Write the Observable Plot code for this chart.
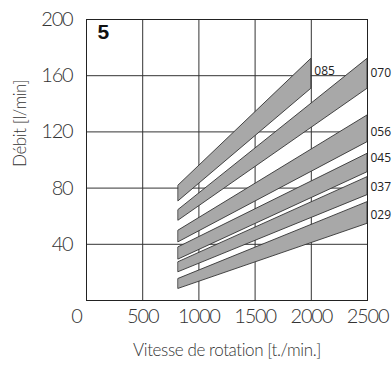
<!DOCTYPE html>
<html><head><meta charset="utf-8">
<script src="https://cdn.jsdelivr.net/npm/d3@7"></script>
<script src="https://cdn.jsdelivr.net/npm/@observablehq/plot@0.6"></script>
<style>body{margin:0;background:#fff}</style></head>
<body><div id="c"></div>
<script>
const series = ["085","070","056","045","037","029"];
const speedMin = [820,820,820,820,820,820];
const speedMax = [2000,2500,2500,2500,2500,2500];
const upperAtMin = [81.9,64.5,49.8,37.9,27.3,15.4];
const lowerAtMin = [70.7,56.9,41.5,29.2,20.2,8.3];
const upperAtMax = [172,172,131.7,104.4,87.8,70];
const lowerAtMax = [150.7,150.7,112.7,91.3,75,54.6];
const labelFlow = [163,162,120,101,81,60.5];
const xTicks = [0,500,1000,1500,2000,2500];
const yTicks = [40,80,120,160,200];
const xGrid = [500,1000,1500,2000];
const yGrid = [40,80,120,160];

const bands = [];
series.forEach((s,i)=>{
  bands.push({s, x: speedMin[i], lo: lowerAtMin[i], hi: upperAtMin[i]});
  bands.push({s, x: speedMax[i], lo: lowerAtMax[i], hi: upperAtMax[i]});
});
const labels = series.map((s,i)=>({s, x: speedMax[i], y: labelFlow[i]}));

const thin = "Lato, Roboto, 'DejaVu Sans', sans-serif";
const tickOpts = {tickSize: 0, fontSize: 20, fontWeight: 300, fill: "#333", fontFamily: thin, label: null, tickFormat: d => String(d)};
const chart = Plot.plot({
  width: 392, height: 371,
  marginLeft: 86, marginRight: 25, marginTop: 19, marginBottom: 71,
  x: {domain: [0,2500]},
  y: {domain: [0,200]},
  style: {fontFamily: thin, background: "#fff"},
  marks: [
    Plot.gridX(xGrid, {stroke: "#333", strokeOpacity: 1, strokeWidth: 1}),
    Plot.gridY(yGrid, {stroke: "#333", strokeOpacity: 1, strokeWidth: 1}),
    Plot.areaY(bands, {x: "x", y1: "lo", y2: "hi", z: "s", fill: "#a8a8a8", stroke: "#333", strokeWidth: 0.9}),
    Plot.frame({stroke: "#222", strokeWidth: 1}),
    Plot.axisX([0], {...tickOpts, tickPadding: 8, dx: -10}),
    Plot.axisX(xTicks.slice(1), {...tickOpts, tickPadding: 8}),
    Plot.axisY(yTicks, {...tickOpts, tickPadding: 14}),
    Plot.text(labels, {x: "x", y: "y", text: "s", textAnchor: "start", dx: 3, fontSize: 12, fill: "#222", fontFamily: "'Open Sans',sans-serif"}),
    Plot.text(["5"], {frameAnchor: "top-left", dx: 11, dy: 5, fontSize: 21, fontWeight: "bold", fill: "#111", fontFamily: "'Liberation Sans',Arial,sans-serif", textAnchor: "start", lineAnchor: "top"}),
    Plot.text(["Vitesse de rotation [t./min.]"], {frameAnchor: "bottom", dy: 55, fontSize: 17, fontWeight: 300, fill: "#333", fontFamily: thin}),
    Plot.text(["Débit [l/min]"], {frameAnchor: "left", dx: -66, dy: 7, rotate: -90, fontSize: 17, fontWeight: 300, fill: "#333", fontFamily: thin})
  ]
});
d3.select(chart).selectAll("g[aria-label='x-axis tick label'] text, g[aria-label='y-axis tick label'] text")
  .attr("letter-spacing", -1.2).style("font-weight", "300").style("font-family", thin);
d3.select(chart).selectAll("g[aria-label='text'] text").filter(function(){return /Vitesse|Débit/.test(this.textContent);}).attr("letter-spacing", -0.4);
document.getElementById("c").appendChild(chart);
</script></body></html>
